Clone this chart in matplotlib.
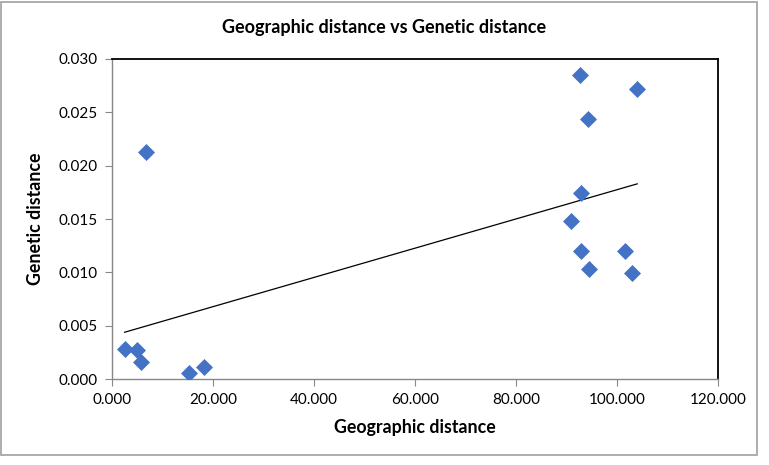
import numpy as np
import matplotlib.pyplot as plt
from matplotlib.patches import Rectangle
from matplotlib.ticker import FormatStrFormatter

plt.rcParams['font.family'] = ['Lato', 'DejaVu Sans']

# values
geo_dist = [2500, 4950, 5750, 6750, 15150, 18150,
            92700, 104000, 94300, 92800, 90800, 92800, 101600, 94400, 103000]
gen_dist = [0.00281, 0.00275, 0.00159, 0.02124, 0.00056, 0.00109,
            0.02846, 0.02719, 0.02437, 0.01744, 0.01484, 0.01203, 0.01203, 0.01031, 0.00994]

x = np.array(geo_dist)
y = np.array(gen_dist)

fig = plt.figure(figsize=(7.69, 4.65), dpi=100)
ax = fig.add_axes([112/769, 1 - 379/465, (718 - 112)/769, (379 - 59)/465])

ax.scatter(x, y, marker='D', s=75, color='#4472C4', zorder=3, linewidths=0)

# linear trendline
k, b = np.polyfit(x, y, 1)
xs = np.array([x.min(), x.max()])
ax.plot(xs, k*xs + b, color='black', lw=0.9, zorder=2)

ax.set_xlim(0, 120000)
ax.set_ylim(0, 0.030)
ax.set_xticks(np.arange(0, 120001, 20000))
ax.set_yticks(np.arange(0, 0.0301, 0.005))
ax.xaxis.set_major_formatter(plt.FuncFormatter(lambda v, p: f"{v/1000:.3f}"))
ax.yaxis.set_major_formatter(FormatStrFormatter('%.3f'))
ax.tick_params(direction='out', length=5, color='#888888', labelsize=11, pad=5)

for s in ['top', 'right']:
    ax.spines[s].set_color('black')
    ax.spines[s].set_linewidth(1.3)
for s in ['left', 'bottom']:
    ax.spines[s].set_color('#888888')
    ax.spines[s].set_linewidth(1.0)

ax.set_xlabel('Geographic distance', fontsize=12.8, fontweight='bold', labelpad=9)
ax.set_ylabel('Genetic distance', fontsize=12.8, fontweight='bold', labelpad=11)
fig.text(0.5, 1 - 27/465, 'Geographic distance vs Genetic distance',
         ha='center', va='center', fontsize=13, fontweight='bold')

# chart area border
fig.patches.append(Rectangle((1/769, 1 - 455/465), 756/769, 453/465,
                             transform=fig.transFigure, fill=False,
                             edgecolor='#a0a0a0', lw=1.2))

fig.savefig('out.png', dpi=100)
